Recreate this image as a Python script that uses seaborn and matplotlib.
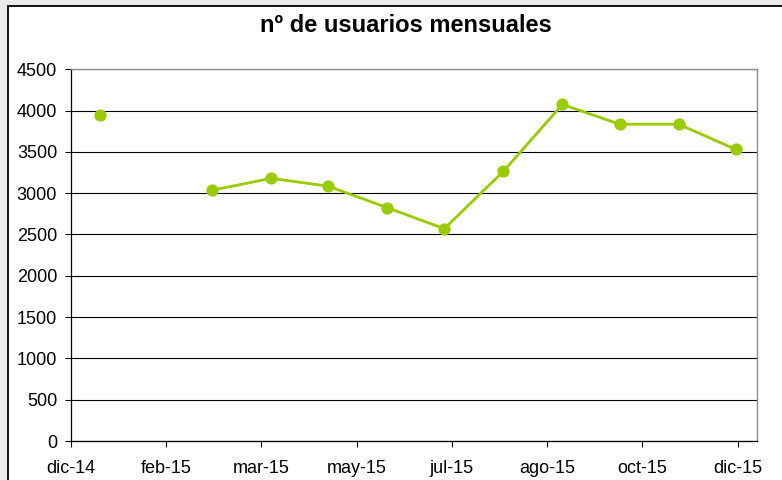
import numpy as np
import pandas as pd
import matplotlib
matplotlib.use("Agg")
import matplotlib.pyplot as plt
import matplotlib.dates as mdates
from matplotlib.patches import Rectangle
import seaborn as sns

# ---- data ----
months = ["2015-01-01", "2015-02-01", "2015-03-01", "2015-04-01", "2015-05-01", "2015-06-01",
          "2015-07-01", "2015-08-01", "2015-09-01", "2015-10-01", "2015-11-01", "2015-12-01"]
users = [3945, np.nan, 3035, 3180, 3085, 2825, 2570, 3265, 4075, 3835, 3835, 3530]
x_tick_labels = ["dic-14", "feb-15", "mar-15", "may-15", "jul-15", "ago-15", "oct-15", "dic-15"]
y_ticks = [0, 500, 1000, 1500, 2000, 2500, 3000, 3500, 4000, 4500]
title = "nº de usuarios mensuales"

# axis settings (date axis, major unit 50 days)
axis_start = "2014-12-17"
axis_end = "2015-12-12"
tick_step_days = 50

df = pd.DataFrame({"mes": pd.to_datetime(months), "usuarios": users})
df["seg"] = df["usuarios"].isna().cumsum()
df_plot = df.dropna()

sns.set_theme(style="white")
plt.rcParams["font.family"] = ["Liberation Sans", "DejaVu Sans"]

W, H = 782, 480
fig = plt.figure(figsize=(W / 100, H / 100), dpi=100)
fig.patch.set_facecolor("#ebebeb")
fig.add_artist(Rectangle((8 / W, -0.1), 1.2, 0.1 + 1 - 6 / H, transform=fig.transFigure,
                         facecolor="white", edgecolor="black", linewidth=1.3, zorder=0))

ax = fig.add_axes([71 / W, 39 / H, (756.7 - 71) / W, (441 - 69.3) / H])
ax.set_facecolor("white")

green = "#99cc00"
sns.lineplot(data=df_plot, x="mes", y="usuarios", units="seg", estimator=None,
             color=green, linewidth=2.0, marker="o", markersize=8.8,
             markeredgewidth=0, ax=ax)

x0 = mdates.date2num(pd.Timestamp(axis_start))
x1 = mdates.date2num(pd.Timestamp(axis_end))
ax.set_xlim(x0, x1)
ax.set_xticks([x0 + tick_step_days * k for k in range(len(x_tick_labels))])
ax.set_xticklabels(x_tick_labels)
ax.set_ylim(y_ticks[0], y_ticks[-1])
ax.set_yticks(y_ticks)
ax.set_yticklabels([str(v) for v in y_ticks])

ax.set_xlabel("")
ax.set_ylabel("")
ax.grid(axis="y", color="black", linewidth=0.8)
ax.grid(axis="x", visible=False)
ax.set_axisbelow(True)

for s in ["left", "bottom"]:
    ax.spines[s].set_color("black")
    ax.spines[s].set_linewidth(0.9)
for s in ["top", "right"]:
    ax.spines[s].set_color("#8c8c8c")
    ax.spines[s].set_linewidth(1.0)

ax.tick_params(axis="both", direction="out", length=4, width=0.8, color="black",
               labelsize=13, labelcolor="black")
ax.tick_params(axis="y", pad=6, left=True)
ax.tick_params(axis="x", pad=10, bottom=True)

fig.text(406 / W, 1 - 25.5 / H, title, ha="center", va="center",
         fontsize=17, fontweight="bold", color="black")

fig.savefig("out.png", dpi=100, facecolor=fig.get_facecolor())
